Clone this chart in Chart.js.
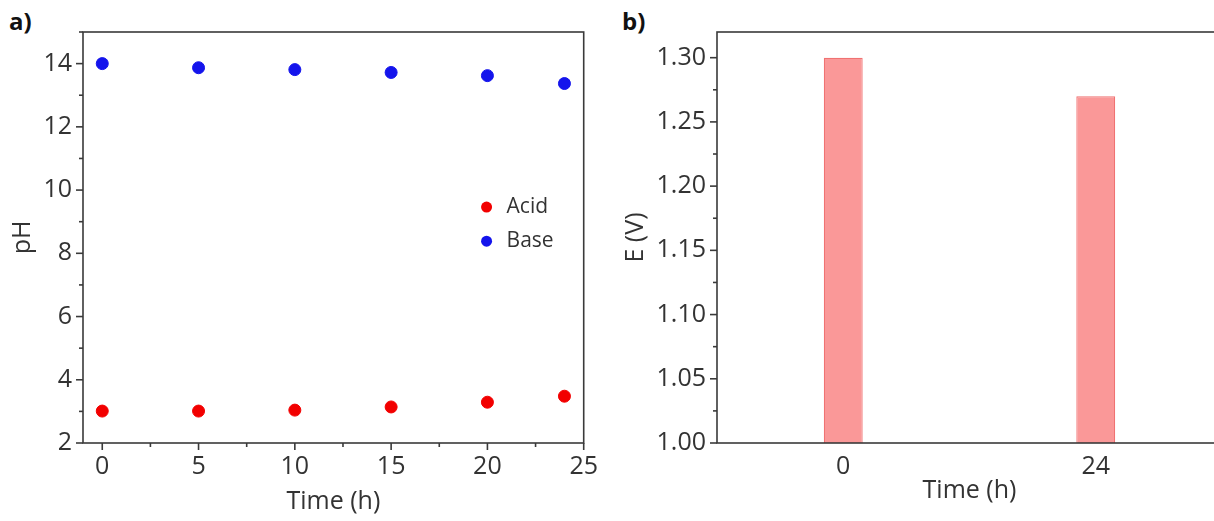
<!DOCTYPE html>
<html>
<head>
<meta charset="utf-8">
<script src="https://cdn.jsdelivr.net/npm/chart.js@4.4.1/dist/chart.umd.min.js"></script>
<style>
  html, body { margin: 0; padding: 0; background: #fff; overflow: hidden; width: 1214px; height: 521px; }
  canvas { position: absolute; top: 0; }
  #phChart { left: 0; }
  #eChart { left: 607px; }
  .tag { position: absolute; top: 4px; font: bold 24px 'Open Sans', sans-serif; color: #111; }
</style>
</head>
<body>
<div class="tag" style="left:9px">a)</div>
<div class="tag" style="left:622px">b)</div>
<canvas id="phChart" width="607" height="521"></canvas>
<canvas id="eChart" width="625" height="521"></canvas>
<script>
// pH of the two electrolytes over time
const hours = [0, 5, 10, 15, 20, 24]
const acidPH = [3.01, 3.01, 3.04, 3.14, 3.29, 3.48]
const basePH = [14.0, 13.87, 13.81, 13.72, 13.62, 13.37]
const timeTicks = [0, 5, 10, 15, 20, 25]
const phTicks = [2, 4, 6, 8, 10, 12, 14]

// cell voltage before and after
const voltageLabels = ["0", "24"]
const voltage = [1.30, 1.27]
const voltageTicks = [1.00, 1.05, 1.10, 1.15, 1.20, 1.25, 1.30]

const ink = "#333333"
Chart.defaults.font.family = "'Open Sans', sans-serif"
Chart.defaults.font.size = 25
Chart.defaults.color = ink

// box around the plot area plus outward major/minor ticks
const frame = {
  id: "frame",
  afterDraw(chart) {
    const { ctx, chartArea: a } = chart
    ctx.save()
    ctx.strokeStyle = "#3a3a3a"
    ctx.lineWidth = 1.6
    ctx.strokeRect(a.left, a.top, a.right - a.left, a.bottom - a.top)
    for (const id of ["x", "y"]) {
      const s = chart.scales[id]
      if (s.type !== "linear") continue
      const vals = s.ticks.map(t => t.value)
      const mark = (v, len) => {
        if (v < s.min || v > s.max) return
        const p = s.getPixelForValue(v)
        ctx.beginPath()
        if (s.isHorizontal()) {
          ctx.moveTo(p, a.bottom)
          ctx.lineTo(p, a.bottom + len)
        } else {
          ctx.moveTo(a.left, p)
          ctx.lineTo(a.left - len, p)
        }
        ctx.stroke()
      }
      vals.forEach(v => mark(v, 7))
      for (let i = 1; i < vals.length; i++) mark((vals[i - 1] + vals[i]) / 2, 4)
      if (id === "y") mark(vals[vals.length - 1] + (vals[1] - vals[0]) / 2, 4)
    }
    ctx.restore()
  },
}

// legend sitting inside the plot area
const innerLegend = {
  id: "innerLegend",
  afterDraw(chart) {
    const { ctx, chartArea: a } = chart
    const x = a.left + (a.right - a.left) * 0.806
    ctx.save()
    ctx.font = "21px 'Open Sans', sans-serif"
    ctx.textBaseline = "middle"
    chart.data.datasets.forEach((ds, i) => {
      const y = a.top + (a.bottom - a.top) * (0.426 + i * 0.083)
      ctx.fillStyle = ds.backgroundColor
      ctx.beginPath()
      ctx.arc(x, y, 5.5, 0, Math.PI * 2)
      ctx.fill()
      ctx.fillStyle = ink
      ctx.fillText(ds.label, x + 20, y)
    })
    ctx.restore()
  },
}

new Chart(document.getElementById("phChart"), {
  type: "scatter",
  data: {
    datasets: [
      {
        label: "Acid",
        data: hours.map((h, i) => ({ x: h, y: acidPH[i] })),
        backgroundColor: "#f20000",
        borderColor: "#f20000",
        pointRadius: 6,
      },
      {
        label: "Base",
        data: hours.map((h, i) => ({ x: h, y: basePH[i] })),
        backgroundColor: "#1414ec",
        borderColor: "#1414ec",
        pointRadius: 6,
      },
    ],
  },
  options: {
    responsive: false,
    animation: false,
    layout: { padding: { top: 32, right: 20, left: 0, bottom: 0 } },
    plugins: { legend: { display: false }, tooltip: { enabled: false } },
    scales: {
      x: {
        type: "linear",
        min: -1,
        max: 25,
        afterBuildTicks: s => { s.ticks = timeTicks.map(v => ({ value: v })) },
        afterFit: s => { s.height = 78 },
        grid: { display: false, drawTicks: false },
        border: { display: false },
        ticks: { padding: 9, maxRotation: 0 },
        title: { display: true, text: "Time (h)", padding: { top: 0, bottom: 4 } },
      },
      y: {
        min: 2,
        max: 15,
        afterBuildTicks: s => { s.ticks = phTicks.map(v => ({ value: v })) },
        afterFit: s => { s.width = 83 },
        grid: { display: false, drawTicks: false },
        border: { display: false },
        ticks: { padding: 11 },
        title: { display: true, text: "pH", padding: { top: 8, bottom: 0 } },
      },
    },
  },
  plugins: [frame, innerLegend],
})

new Chart(document.getElementById("eChart"), {
  type: "bar",
  data: {
    labels: voltageLabels,
    datasets: [
      {
        label: "E",
        data: voltage,
        backgroundColor: "#fa9898",
        borderColor: "#f07272",
        borderWidth: 1.2,
        categoryPercentage: 1,
        barPercentage: 0.154,
      },
    ],
  },
  options: {
    responsive: false,
    animation: false,
    layout: { padding: { top: 32, right: 10, left: 0, bottom: 0 } },
    plugins: { legend: { display: false }, tooltip: { enabled: false } },
    scales: {
      x: {
        afterFit: s => { s.height = 78 },
        grid: { display: false, drawTicks: false },
        border: { display: false },
        ticks: { padding: 9, maxRotation: 0 },
        title: { display: true, text: "Time (h)", padding: { top: 0, bottom: 15 } },
      },
      y: {
        min: 1.0,
        max: 1.32,
        afterBuildTicks: s => { s.ticks = voltageTicks.map(v => ({ value: v })) },
        afterFit: s => { s.width = 110 },
        grid: { display: false, drawTicks: false },
        border: { display: false },
        ticks: { padding: 11, callback: v => v.toFixed(2) },
        title: { display: true, text: "E (V)", padding: { top: 14, bottom: 0 } },
      },
    },
  },
  plugins: [frame],
})
</script>
</body>
</html>
